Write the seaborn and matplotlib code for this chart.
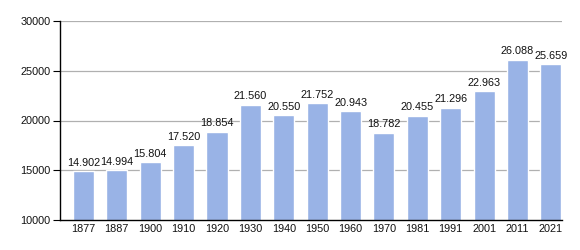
import matplotlib
matplotlib.use("Agg")
import matplotlib.pyplot as plt
import seaborn as sns
import pandas as pd

years = ["1877", "1887", "1900", "1910", "1920", "1930", "1940", "1950",
         "1960", "1970", "1981", "1991", "2001", "2011", "2021"]
population = [14902, 14994, 15804, 17520, 18854, 21560, 20550, 21752,
              20943, 18782, 20455, 21296, 22963, 26088, 25659]
value_labels = ["14.902", "14.994", "15.804", "17.520", "18.854", "21.560",
                "20.550", "21.752", "20.943", "18.782", "20.455", "21.296",
                "22.963", "26.088", "25.659"]
y_ticks = [10000, 15000, 20000, 25000, 30000]

sns.set_theme(style="white")
plt.rcParams['font.family'] = ['Liberation Sans', 'DejaVu Sans']

df = pd.DataFrame({"year": years, "pop": population})

fig = plt.figure(figsize=(5.8, 2.5), dpi=100)
ax = fig.add_axes([60/580, 30/250, (562-60)/580, (220-21)/250])

sns.barplot(data=df, x="year", y="pop", color="#99b3e6", saturation=1,
            width=0.63, ax=ax, zorder=2)

ax.set_ylim(10000, 30000)
ax.set_xlim(-0.70, len(years) - 1 + 0.33)
ax.set_yticks(y_ticks)
ax.set_yticklabels([str(t) for t in y_ticks], fontsize=7.8, color="#111111")
ax.tick_params(axis="x", labelsize=7.8, length=0, pad=3, colors="#111111")
ax.tick_params(axis="y", length=5, width=0.8, color="black", pad=2, left=True)
ax.set_xlabel("")
ax.set_ylabel("")

for t in y_ticks[1:]:
    ax.axhline(t, color="#b0b0b0", lw=0.9, zorder=1)

for s in ["top", "right"]:
    ax.spines[s].set_visible(False)
for s in ["left", "bottom"]:
    ax.spines[s].set_visible(True)
    ax.spines[s].set_color("black")
    ax.spines[s].set_linewidth(1.0)

for i, (v, lab) in enumerate(zip(population, value_labels)):
    ax.text(i, v + 350, lab, ha="center", va="bottom", fontsize=7.8,
            color="#111111")

fig.savefig("out.png", dpi=100)
